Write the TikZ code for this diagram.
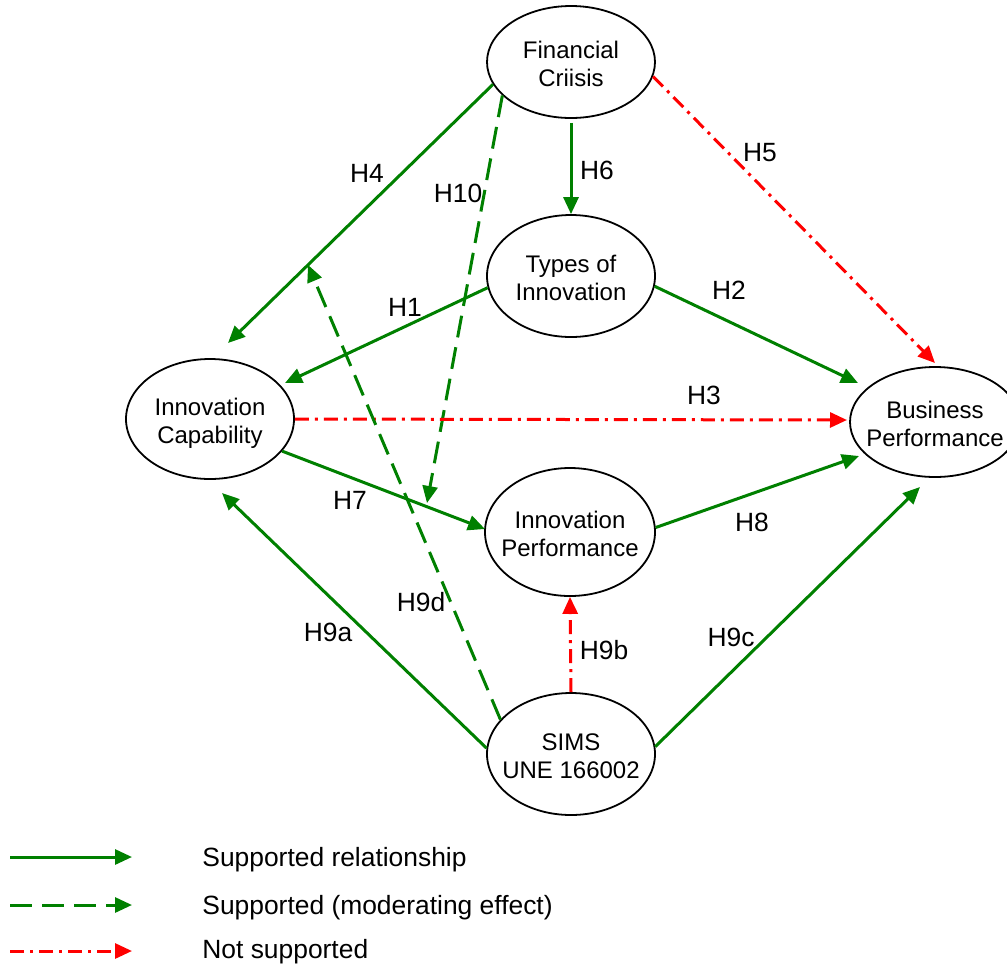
\documentclass[tikz,border=0pt]{standalone}
\usepackage{fontspec}
\setmainfont{Liberation Sans}
\usetikzlibrary{shapes.geometric,arrows.meta}
\definecolor{supgreen}{RGB}{0,128,0}
\definecolor{nsred}{RGB}{255,0,0}
% two centred lines inside an ellipse, without widening it
\newcommand\twolines[2]{\makebox[0pt]{\raisebox{-5.5pt}[0pt][0pt]{\begin{tabular}{@{}c@{}}#1\\#2\end{tabular}}}}
\begin{document}
\begin{tikzpicture}[x=0.5pt,y=-0.5pt,
  font=\fontsize{13.2}{15}\selectfont,
  construct/.style={ellipse,draw=black,line width=0.9pt,fill=white,inner sep=0pt,
    minimum width=84pt,minimum height=60pt,font=\fontsize{12}{14}\selectfont},
  tipped/.style={-{Triangle[length=8.5pt,width=7.5pt]}},
  sup/.style={tipped,supgreen,line width=1.5pt},
  mod/.style={sup,dash pattern=on 11pt off 5pt},
  nsup/.style={tipped,nsred,line width=1.5pt,dash pattern=on 7pt off 3pt on 1.5pt off 3pt},
  hlab/.style={inner sep=0pt}]
\useasboundingbox (0,0) rectangle (1007,965);

% constructs
\node[construct,minimum height=56pt] (fc) at (571,62) {\twolines{Financial}{Criisis}};
\node[construct,minimum height=61pt] (ti) at (571,276) {\twolines{Types of}{Innovation}};
\node[construct,minimum height=60pt] (ic) at (210,419) {\twolines{Innovation}{Capability}};
\node[construct,minimum width=85pt,minimum height=55pt] (bp) at (935,422) {\twolines{Business}{Performance}};
\node[construct,minimum width=85pt,minimum height=64pt] (ip) at (570,532) {\twolines{Innovation}{Performance}};
\node[construct,minimum height=61pt] (sm) at (571,754) {\twolines{SIMS}{UNE 166002}};

% hypotheses
\draw[sup] (fc.196) -- coordinate[pos=0.698] (h4mid) ([shift={(18,-76)}]ic.center);
\draw[mod] (fc.206) -- ([shift={(-143,-29)}]ip.center);
\draw[sup,shorten <=2pt] (fc.south) -- (ti.north);
\draw[nsup] (fc.350) -- ([shift={(0,-59)}]bp.center);
\draw[sup] (ti.188) -- ([shift={(75,-36)}]ic.center);
\draw[sup] (ti.353) -- ([shift={(-77,-39)}]bp.center);
\draw[nsup] (ic.east) -- ([shift={(-88,-2)}]bp.center);
\draw[sup] (ic.336) -- ([shift={(-85,-3)}]ip.center);
\draw[sup] (ip.3) -- ([shift={(-76,34)}]bp.center);
\draw[sup] (sm.176) -- ([shift={(12,74)}]ic.center);
\draw[mod] (sm.154) -- (h4mid);
\draw[nsup] (sm.north) -- (ip.south);
\draw[sup] (sm.5) -- ([shift={(-15,65)}]bp.center);

% hypothesis labels
\node[hlab] (lh4) at (367,173) {H4};
\node[hlab] (lh10) at (458,193) {H10};
\node[hlab] (lh6) at (597,170) {H6};
\node[hlab] (lh5) at (760,153) {H5};
\node[hlab] (lh1) at (405,307) {H1};
\node[hlab] (lh2) at (729,290) {H2};
\node[hlab] (lh3) at (704,395) {H3};
\node[hlab] (lh7) at (350,500) {H7};
\node[hlab] (lh8) at (752,522) {H8};
\node[hlab] (lh9a) at (328,632) {H9a};
\node[hlab] (lh9d) at (421,602) {H9d};
\node[hlab] (lh9b) at (604,650) {H9b};
\node[hlab] (lh9c) at (731,637) {H9c};

% legend
\coordinate (ka) at (10,857);  \coordinate (kb) at (132,857);
\coordinate (kc) at (10,905);  \coordinate (kd) at (132,905);
\coordinate (ke) at (10,951);  \coordinate (kf) at (132,951);
\draw[sup] (ka) -- (kb);
\draw[mod] (kc) -- (kd);
\draw[nsup] (ke) -- (kf);
\node[hlab,anchor=base west] (t1) at (202,866) {Supported relationship};
\node[hlab,anchor=base west] (t2) at (202,914) {Supported (moderating effect)};
\node[hlab,anchor=base west] (t3) at (202,958) {Not supported};
\end{tikzpicture}
\end{document}
